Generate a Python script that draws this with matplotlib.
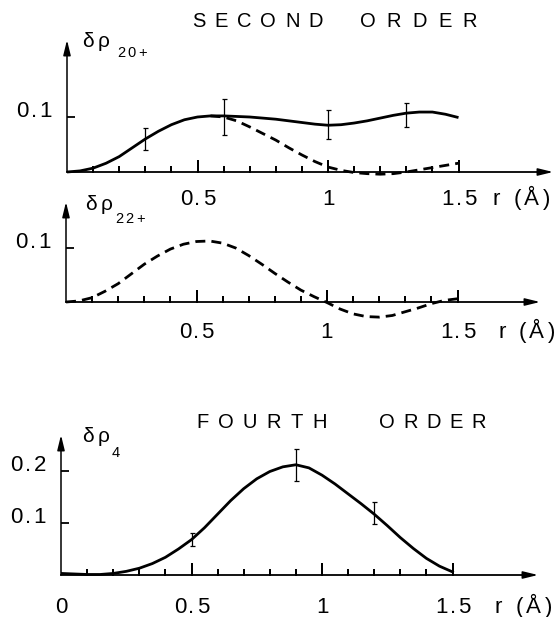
import matplotlib
matplotlib.use('Agg')
import matplotlib.pyplot as plt
from matplotlib.font_manager import FontProperties
from matplotlib.transforms import IdentityTransform

# --- second order, l=2 m=0 component ---
r20 = [0.0, 0.05, 0.1, 0.15, 0.2, 0.25, 0.3, 0.35, 0.4, 0.45, 0.5, 0.55, 0.6, 0.65,
       0.7, 0.75, 0.8, 0.85, 0.9, 0.95, 1.0, 1.05, 1.1, 1.15, 1.2, 1.25, 1.3, 1.35,
       1.4, 1.45, 1.5]
rho20_full = [0.0, 0.002, 0.007, 0.016, 0.028, 0.044, 0.06, 0.074, 0.086, 0.095,
              0.1, 0.102, 0.102, 0.101, 0.1, 0.098, 0.096, 0.093, 0.09, 0.087,
              0.085, 0.086, 0.089, 0.093, 0.098, 0.103, 0.107, 0.109, 0.109, 0.105,
              0.099]
r20_dash = [0.55, 0.6, 0.65, 0.7, 0.75, 0.8, 0.85, 0.9, 0.95, 1.0, 1.05, 1.1, 1.15,
            1.2, 1.25, 1.3, 1.35, 1.4, 1.45, 1.5]
rho20_dash = [0.102, 0.1, 0.093, 0.082, 0.07, 0.058, 0.044, 0.031, 0.019, 0.009,
              0.003, -0.001, -0.003, -0.004, -0.003, 0.0, 0.004, 0.008, 0.012, 0.016]
r20_err = [0.3, 0.6, 1.0, 1.3]
rho20_err = [0.06, 0.1, 0.086, 0.104]
err20 = [0.02, 0.033, 0.026, 0.022]

# --- second order, l=2 m=2 component ---
r22 = [0.0, 0.05, 0.1, 0.15, 0.2, 0.25, 0.3, 0.35, 0.4, 0.45, 0.5, 0.55, 0.6, 0.65,
       0.7, 0.75, 0.8, 0.85, 0.9, 0.95, 1.0, 1.05, 1.1, 1.15, 1.2, 1.25, 1.3, 1.35,
       1.4, 1.45, 1.5]
rho22 = [0.0, 0.002, 0.008, 0.02, 0.034, 0.052, 0.07, 0.085, 0.098, 0.107, 0.112,
         0.113, 0.109, 0.1, 0.086, 0.07, 0.053, 0.037, 0.022, 0.01, -0.001, -0.013,
         -0.022, -0.027, -0.028, -0.025, -0.018, -0.011, -0.003, 0.003, 0.006]

# --- fourth order ---
r4 = [0.0, 0.05, 0.1, 0.15, 0.2, 0.25, 0.3, 0.35, 0.4, 0.45, 0.5, 0.55, 0.6, 0.65,
      0.7, 0.75, 0.8, 0.85, 0.9, 0.95, 1.0, 1.05, 1.1, 1.15, 1.2, 1.25, 1.3, 1.35,
      1.4, 1.45, 1.5]
rho4 = [0.003, 0.002, 0.001, 0.001, 0.003, 0.007, 0.013, 0.022, 0.034, 0.05, 0.068,
        0.091, 0.117, 0.143, 0.166, 0.185, 0.199, 0.208, 0.212, 0.206, 0.192, 0.175,
        0.156, 0.137, 0.117, 0.095, 0.072, 0.051, 0.032, 0.017, 0.006]
r4_err = [0.5, 0.9, 1.2]
rho4_err = [0.068, 0.212, 0.119]
err4 = [0.012, 0.031, 0.021]

xtick_vals = [0.5, 1.0, 1.5]
xtick_text = ['0.5', '1', '1.5']
xminor_vals = [0.1, 0.2, 0.3, 0.4, 0.6, 0.7, 0.8, 0.9, 1.1, 1.2, 1.3, 1.4]

W, H, DPI = 557, 617, 100
plt.rcParams['font.family'] = ['Liberation Sans', 'DejaVu Sans']
fig = plt.figure(figsize=(W / DPI, H / DPI), dpi=DPI)
renderer = fig.canvas.get_renderer()


def spaced(x, y, s, size, gap=0.0, ha='left', width=None):
    """Letter-spaced text at display pixel (x, y), y being the baseline."""
    fp = FontProperties(family=['Liberation Sans', 'DejaVu Sans'], size=size)
    ws = []
    for ch in s:
        if ch == ' ':
            ws.append(size * 0.278 * DPI / 72)
        else:
            ws.append(renderer.get_text_width_height_descent(ch, fp, ismath=False)[0])
    if width is not None and len(s) > 1:
        gap = (width - sum(ws)) / (len(s) - 1)
    total = sum(ws) + gap * (len(s) - 1)
    if ha == 'center':
        x -= total / 2
    elif ha == 'right':
        x -= total
    for ch, w in zip(s, ws):
        if ch != ' ':
            fig.text(x, y, ch, fontproperties=fp, transform=IdentityTransform(),
                     va='baseline', ha='left')
        x += w + gap


def make_axes(x0, base, sx, sy, xmax, ymax, ymin):
    # axes placed so that data (0, 0) sits at pixel (x0, base) from the top-left
    left = x0 / W
    bottom = (H - (base - ymin * sy)) / H
    ax = fig.add_axes([left, bottom, xmax * sx / W, (ymax - ymin) * sy / H])
    ax.set_xlim(0, xmax)
    ax.set_ylim(ymin, ymax)
    ax.axis('off')
    # r axis drawn as one comb line: up and down at every tick position
    major_h, minor_h = 12 / sy, 6.5 / sy
    ticks = sorted([(v, major_h) for v in xtick_vals] +
                   [(v, minor_h) for v in xminor_vals])
    comb_x, comb_y = [0.0], [0.0]
    for v, h in ticks:
        comb_x += [v, v, v]
        comb_y += [0.0, h, 0.0]
    comb_x.append(xmax - 0.05)
    comb_y.append(0.0)
    ax.plot(comb_x, comb_y, color='black', lw=1.3, clip_on=False,
            solid_joinstyle='miter')
    # arrow heads on both axes
    arrow = dict(arrowstyle='-|>,head_length=0.9,head_width=0.22', lw=1.1,
                 color='black', shrinkA=0, shrinkB=0)
    ax.annotate('', xy=(xmax, 0), xytext=(xmax - 0.06, 0), arrowprops=arrow,
                annotation_clip=False)
    ax.annotate('', xy=(0, ymax), xytext=(0, 0), arrowprops=arrow,
                annotation_clip=False)
    return ax


def label_axes(ax, sx, yticks, ylabels, lab_dy, sym, sub, sym_dx, sym_dy, sub_dx,
               sub_dy, r_x, with_zero=False):
    ax.hlines(yticks, 0, 8 / sx, color='black', lw=1.3, zorder=3, clip_on=False)
    ox, oy = ax.transData.transform((0, 0))
    for v, t in zip(yticks, ylabels):
        px, py = ax.transData.transform((0, v))
        spaced(px - 15, py, t, 16, gap=2.5, ha='right')
    vals = ([0.0] if with_zero else []) + xtick_vals
    texts = (['0'] if with_zero else []) + xtick_text
    for v, t in zip(vals, texts):
        px, py = ax.transData.transform((v, 0))
        spaced(px, py - lab_dy, t, 16, gap=2, ha='center')
    px, py = ax.transData.transform((r_x, 0))
    spaced(px, py - lab_dy, 'r (Å)', 16, width=57)
    spaced(ox + sym_dx, oy + sym_dy, sym, 15, gap=4)
    spaced(ox + sub_dx, oy + sub_dy, sub, 10.5, gap=2.5)


# second order, m=0
ax1 = make_axes(67, 172, 261, 550, (553 - 67) / 261, (172 - 40) / 550, -0.02)
ax1.plot(r20, rho20_full, color='black', lw=2.0, solid_capstyle='butt')
ax1.plot(r20_dash, rho20_dash, color='black', lw=2.0, dashes=(3.6, 2.2))
ax1.errorbar(r20_err, rho20_err, yerr=err20, fmt='none', ecolor='black',
             elinewidth=0.9, capsize=1.8, capthick=0.9)
label_axes(ax1, 261, [0.1], ['0.1'], 33, 'δρ', '20+', 15, 125, 50, 115,
           (493 - 67) / 261)

# second order, m=2
ax2 = make_axes(66, 302, 261, 540, (540 - 66) / 261, (302 - 202) / 540, -0.05)
ax2.plot(r22, rho22, color='black', lw=2.0, dashes=(3.6, 2.2))
label_axes(ax2, 261, [0.1], ['0.1'], 36, 'δρ', '22+', 19, 92, 49, 79,
           (498 - 66) / 261)

# fourth order
ax3 = make_axes(61, 575, 261, 520, (538 - 61) / 261, (575 - 435) / 520, -0.01)
ax3.plot(r4, rho4, color='black', lw=2.0)
ax3.errorbar(r4_err, rho4_err, yerr=err4, fmt='none', ecolor='black',
             elinewidth=0.9, capsize=1.8, capthick=0.9)
label_axes(ax3, 261, [0.1, 0.2], ['0.1', '0.2'], 38, 'δρ', '4', 21, 133, 51, 118,
           (495 - 61) / 261, with_zero=True)

# section headings
spaced(192, H - 27, 'SECOND', 14.5, width=131)
spaced(360, H - 27, 'ORDER', 14.5, width=117)
spaced(196, H - 428, 'FOURTH', 14.5, width=131)
spaced(379, H - 428, 'ORDER', 14.5, width=107)

fig.savefig('out.png', dpi=DPI)
